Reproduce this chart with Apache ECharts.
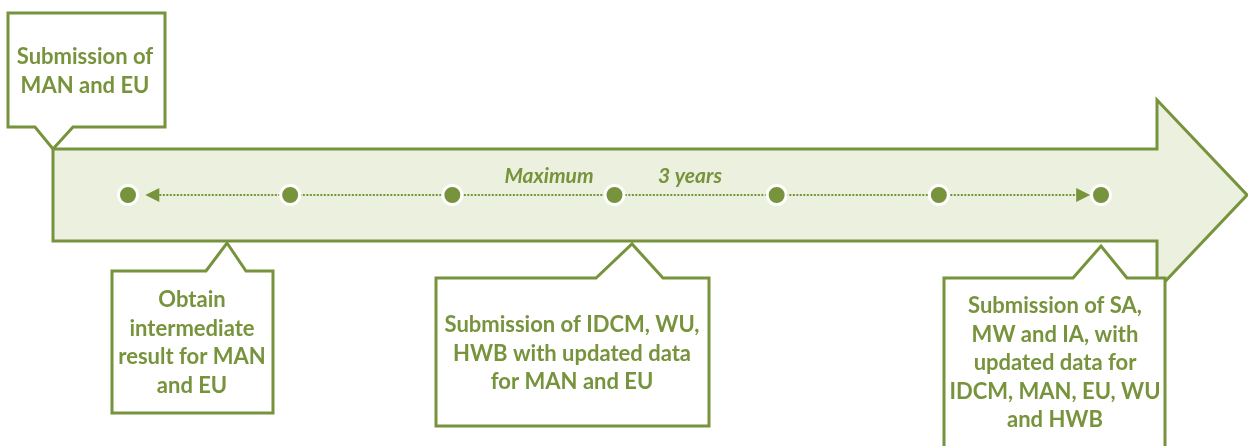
<!DOCTYPE html>
<html>
<head>
<meta charset="utf-8">
<script src="https://cdn.jsdelivr.net/npm/echarts@6/dist/echarts.min.js"></script>
<style>
  html, body { margin: 0; padding: 0; background: #fff; }
  #chart { width: 1248px; height: 446px; }
</style>
</head>
<body>
<div id="chart"></div>
<script>
// milestones along the timeline (index positions)
const milestones = [0, 1, 2, 3, 4, 5, 6]
// span of the dotted "maximum 3 years" range
const spanStart = 0.15
const spanEnd = 5.89
const spanLabels = ['Maximum', '3 years']

// callout texts
const calloutTop = ['Submission of', 'MAN and EU']
const calloutA = ['Obtain', 'intermediate', 'result for MAN', 'and EU']
const calloutB = ['Submission of IDCM, WU,', 'HWB with updated data', 'for MAN and EU']
const calloutC = ['Submission of SA,', 'MW and IA, with', 'updated data for', 'IDCM, MAN, EU, WU', 'and HWB']

const GREEN = '#77933C'
const LIGHT = '#EBF1DE'
const FONT = 'Lato, "Open Sans", sans-serif'

const chart = echarts.init(document.getElementById('chart'))

function callout(points, z) {
  return {
    type: 'polygon',
    z: z,
    shape: { points: points },
    style: { fill: '#fff', stroke: GREEN, lineWidth: 3, lineJoin: 'miter' }
  }
}

function calloutText(lines, x, y, z) {
  return {
    type: 'text',
    z: z,
    x: x,
    y: y,
    style: {
      text: lines.join('\n'),
      fill: GREEN,
      font: 'bold 22px ' + FONT,
      lineHeight: 28.5,
      align: 'center',
      verticalAlign: 'top'
    }
  }
}

function spanText(text, x) {
  return {
    type: 'text',
    z: 1,
    x: x,
    y: 176,
    style: {
      text: text,
      fill: GREEN,
      font: 'italic bold 21px ' + FONT,
      align: 'center',
      verticalAlign: 'middle'
    }
  }
}

chart.setOption({
  animation: false,
  backgroundColor: '#fff',
  grid: {
    left: 128,
    right: 147,
    top: 149,
    height: 92
  },
  xAxis: {
    type: 'value',
    min: 0,
    max: 6,
    show: false
  },
  yAxis: {
    type: 'value',
    min: -1,
    max: 1,
    show: false
  },
  graphic: [
    // big arrow
    {
      type: 'polygon',
      z: 0,
      shape: {
        points: [[53, 149], [1157, 149], [1157, 100], [1247, 195], [1157, 290], [1157, 241], [53, 241]]
      },
      style: { fill: LIGHT, stroke: GREEN, lineWidth: 3, lineJoin: 'miter' }
    },
    spanText(spanLabels[0], 549),
    spanText(spanLabels[1], 690),
    callout([[8, 13], [165, 13], [165, 127], [73, 127], [53, 149], [35, 127], [8, 127]], 10),
    calloutText(calloutTop, 85, 43, 11),
    callout([[112, 271], [206, 271], [227, 243], [246, 271], [273, 271], [273, 413], [112, 413]], 10),
    calloutText(calloutA, 192, 286, 11),
    callout([[436, 278], [596, 278], [632, 244], [663, 278], [709, 278], [709, 426], [436, 426]], 10),
    calloutText(calloutB, 572, 311, 11),
    callout([[944, 278], [1073, 278], [1101, 246], [1127, 278], [1165, 278], [1165, 470], [944, 470]], 10),
    calloutText(calloutC, 1055, 292, 11)
  ],
  series: [
    {
      type: 'line',
      z: 2,
      data: [],
      silent: true,
      markLine: {
        silent: true,
        symbol: ['triangle', 'triangle'],
        symbolSize: 14,
        label: { show: false },
        lineStyle: { color: GREEN, width: 2, type: [2, 1.5] },
        data: [[{ coord: [spanStart, 0] }, { coord: [spanEnd, 0] }]]
      }
    },
    {
      type: 'scatter',
      z: 5,
      symbol: 'circle',
      symbolSize: 19,
      itemStyle: { color: GREEN, borderColor: '#fff', borderWidth: 3, opacity: 1 },
      data: milestones.map(m => [m, 0])
    }
  ]
})
</script>
</body>
</html>
